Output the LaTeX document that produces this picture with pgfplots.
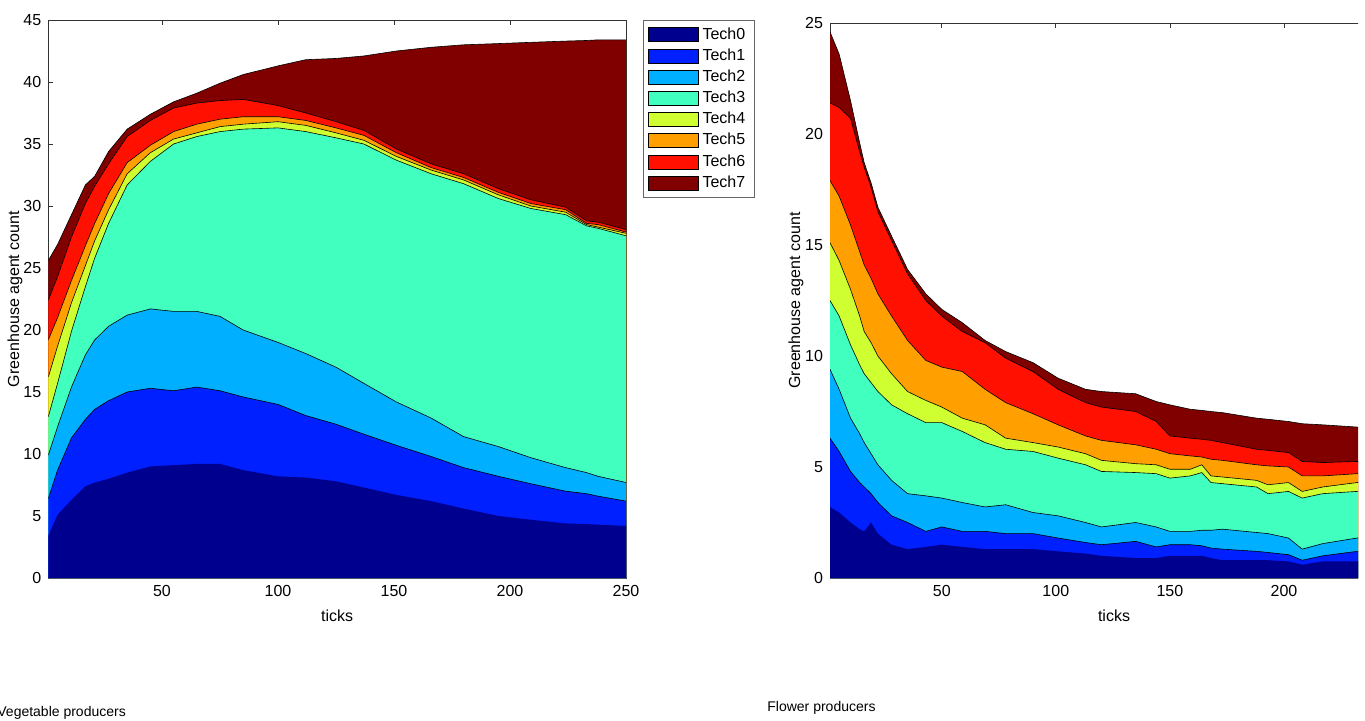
\documentclass[border=0pt]{standalone}
\usepackage{fontspec}
\setmainfont{Liberation Sans}
\usepackage{pgfplots}
\pgfplotsset{compat=1.18}
\usepackage{pgfplotstable}

% jet colormap, 8 levels
\definecolor{tech0}{RGB}{0,0,143}
\definecolor{tech1}{RGB}{0,32,255}
\definecolor{tech2}{RGB}{0,175,255}
\definecolor{tech3}{RGB}{64,255,191}
\definecolor{tech4}{RGB}{207,255,48}
\definecolor{tech5}{RGB}{255,159,0}
\definecolor{tech6}{RGB}{255,16,0}
\definecolor{tech7}{RGB}{128,0,0}

% cumulative tops of the stacked areas (c0 = Tech0, ..., c7 = total)
\pgfplotstableread{
x   c0   c1   c2   c3   c4   c5   c6   c7
1   3.4  6.4  9.9  13.0 16.2 19.2 22.4 25.6
5   5.1  8.7  12.2 15.7 18.7 21.0 24.3 26.9
11  6.3  11.3 15.4 19.9 22.2 24.0 27.5 29.3
17  7.4  12.8 18.0 23.5 25.2 26.8 30.2 31.7
21  7.7  13.6 19.2 25.8 27.2 28.6 31.6 32.4
27  8.0  14.3 20.3 28.6 29.7 31.0 33.4 34.4
35  8.5  15.0 21.2 31.7 32.6 33.5 35.6 36.2
45  9.0  15.3 21.7 33.6 34.3 34.9 36.9 37.4
55  9.1  15.1 21.5 35.0 35.4 36.0 37.9 38.4
65  9.2  15.4 21.5 35.6 35.9 36.6 38.3 39.1
75  9.2  15.1 21.1 36.0 36.4 37.0 38.5 39.9
85  8.7  14.6 20.0 36.2 36.6 37.2 38.6 40.6
100 8.2  14.0 19.0 36.3 36.8 37.2 38.1 41.3
112 8.1  13.1 18.1 36.0 36.5 36.9 37.5 41.8
125 7.8  12.4 17.0 35.5 35.9 36.3 36.8 41.9
137 7.3  11.6 15.7 35.0 35.3 35.7 36.1 42.1
151 6.7  10.7 14.2 33.7 34.0 34.3 34.6 42.5
166 6.2  9.8  12.9 32.6 32.9 33.1 33.4 42.8
180 5.6  8.9  11.4 31.8 32.1 32.3 32.6 43.0
195 5.0  8.2  10.6 30.6 30.9 31.1 31.4 43.1
209 4.7  7.6  9.7  29.8 30.0 30.2 30.5 43.2
224 4.4  7.0  8.9  29.3 29.5 29.7 29.9 43.3
233 4.35 6.8  8.5  28.4 28.5 28.6 28.8 43.35
238 4.3  6.6  8.2  28.2 28.3 28.5 28.7 43.4
250 4.2  6.2  7.7  27.6 27.8 27.9 28.1 43.4
}\vegdata

\pgfplotstableread{
x   c0   c1   c2   c3   c4   c5   c6   c7
1   3.2  6.3  9.4  12.5 15.1 17.9 21.4 24.6
5   2.95 5.7  8.5  11.8 14.3 17.2 21.2 23.6
10  2.5  4.8  7.2  10.5 13.0 15.9 20.7 21.5
14  2.2  4.3  6.5  9.6  11.8 14.7 19.2 19.6
16  2.1  4.1  6.1  9.2  11.1 14.1 18.5 18.7
19  2.5  3.8  5.6  8.8  10.6 13.5 17.6 17.8
22  2.0  3.4  5.1  8.4  10.0 12.8 16.5 16.7
28  1.5  2.8  4.4  7.8  9.2  11.8 15.2 15.4
35  1.3  2.5  3.8  7.4  8.4  10.7 13.7 13.9
43  1.4  2.1  3.7  7.0  8.0  9.8  12.5 12.8
50  1.5  2.3  3.6  7.0  7.7  9.5  11.8 12.1
59  1.4  2.1  3.4  6.6  7.2  9.3  11.1 11.5
69  1.3  2.1  3.2  6.1  6.9  8.5  10.6 10.7
78  1.3  2.0  3.3  5.8  6.3  7.9  9.9  10.2
90  1.3  2.0  2.95 5.7  6.1  7.4  9.3  9.7
101 1.2  1.8  2.8  5.4  5.9  6.9  8.5  9.0
113 1.1  1.6  2.5  5.1  5.6  6.4  7.9  8.5
120 1.0  1.5  2.3  4.8  5.3  6.2  7.7  8.4
135 0.9  1.65 2.5  4.75 5.15 6.0  7.5  8.3
144 0.9  1.4  2.3  4.7  5.1  5.8  7.05 7.95
150 1.0  1.5  2.1  4.5  4.9  5.6  6.4  7.8
159 1.0  1.5  2.1  4.6  4.9  5.5  6.3  7.6
164 1.0  1.45 2.15 4.75 5.1  5.45 6.25 7.55
168 0.9  1.35 2.15 4.3  4.6  5.35 6.2  7.5
173 0.8  1.3  2.2  4.25 4.55 5.3  6.1  7.45
188 0.8  1.2  2.05 4.1  4.4  5.1  5.8  7.2
193 0.8  1.15 2.0  3.8  4.2  5.05 5.75 7.15
202 0.75 1.05 1.8  3.9  4.3  5.0  5.65 7.05
208 0.6  0.8  1.3  3.6  3.9  4.6  5.25 6.95
217 0.75 1.0  1.55 3.8  4.1  4.6  5.2  6.9
232 0.75 1.2  1.8  3.9  4.3  4.7  5.25 6.8
240 0.75 1.2  1.8  3.9  4.3  4.7  5.25 6.75
}\flowdata

\pgfplotsset{
  mlab/.style={
    scale only axis,
    anchor=south west,
    xmin=1, xmax=250, ymin=0,
    xtick={50,100,...,250},
    xtick pos=both, ytick pos=both,
    tick align=inside,
    major tick length=2.5pt,
    axis line style={black!80, line width=0.4pt},
    tick style={black!80, line width=0.4pt},
    tick label style={font=\fontsize{8}{9}\selectfont},
    label style={font=\fontsize{8}{9}\selectfont},
    /pgf/number format/assume math mode=true,
    xlabel={ticks},
    ylabel={Greenhouse agent count},
  },
  edge/.style={black, line width=0.3pt, forget plot},
}

\begin{document}
\begin{tikzpicture}[x=1pt,y=1pt]

\begin{axis}[mlab,
  at={(24.15pt,71pt)}, width=288.85pt, height=279pt,
  ymax=45, ytick={0,5,...,45},
  ylabel style={at={(axis description cs:-0.0576,0.5)}, anchor=center},
  reverse legend,
  legend style={at={(1,1)}, anchor=north west, xshift=8.25pt,
    draw=black!60, fill=white, font=\fontsize{8}{9}\selectfont,
    inner xsep=2.5pt, inner ysep=1.5pt, row sep=-0.7pt, cells={anchor=west}},
  legend image code/.code={\draw[#1, draw=black, line width=0.3pt] (0pt,-3.5pt) rectangle (25pt,3.5pt);},
]
\addplot[fill=tech7, draw=none] table[x=x,y=c7]{\vegdata} \closedcycle;
\addlegendentry{Tech7}
\addplot[fill=tech6, draw=none] table[x=x,y=c6]{\vegdata} \closedcycle;
\addlegendentry{Tech6}
\addplot[fill=tech5, draw=none] table[x=x,y=c5]{\vegdata} \closedcycle;
\addlegendentry{Tech5}
\addplot[fill=tech4, draw=none] table[x=x,y=c4]{\vegdata} \closedcycle;
\addlegendentry{Tech4}
\addplot[fill=tech3, draw=none] table[x=x,y=c3]{\vegdata} \closedcycle;
\addlegendentry{Tech3}
\addplot[fill=tech2, draw=none] table[x=x,y=c2]{\vegdata} \closedcycle;
\addlegendentry{Tech2}
\addplot[fill=tech1, draw=none] table[x=x,y=c1]{\vegdata} \closedcycle;
\addlegendentry{Tech1}
\addplot[fill=tech0, draw=none] table[x=x,y=c0]{\vegdata} \closedcycle;
\addlegendentry{Tech0}
\addplot[edge] table[x=x,y=c7]{\vegdata};
\addplot[edge] table[x=x,y=c6]{\vegdata};
\addplot[edge] table[x=x,y=c5]{\vegdata};
\addplot[edge] table[x=x,y=c4]{\vegdata};
\addplot[edge] table[x=x,y=c3]{\vegdata};
\addplot[edge] table[x=x,y=c2]{\vegdata};
\addplot[edge] table[x=x,y=c1]{\vegdata};
\end{axis}

% the right panel is cut off at the edge of the page, as in the source image
\begin{scope}
\clip (0pt,0pt) rectangle (679pt,360pt);
\begin{axis}[mlab,
  at={(415pt,71pt)}, width=284pt, height=277.5pt,
  ymax=25, ytick={0,5,...,25},
  xtick={50,100,...,200},
  ylabel style={at={(axis description cs:-0.0599,0.5)}, anchor=center},
]
\addplot[fill=tech7, draw=none] table[x=x,y=c7]{\flowdata} \closedcycle;
\addplot[fill=tech6, draw=none] table[x=x,y=c6]{\flowdata} \closedcycle;
\addplot[fill=tech5, draw=none] table[x=x,y=c5]{\flowdata} \closedcycle;
\addplot[fill=tech4, draw=none] table[x=x,y=c4]{\flowdata} \closedcycle;
\addplot[fill=tech3, draw=none] table[x=x,y=c3]{\flowdata} \closedcycle;
\addplot[fill=tech2, draw=none] table[x=x,y=c2]{\flowdata} \closedcycle;
\addplot[fill=tech1, draw=none] table[x=x,y=c1]{\flowdata} \closedcycle;
\addplot[fill=tech0, draw=none] table[x=x,y=c0]{\flowdata} \closedcycle;
\addplot[edge] table[x=x,y=c7]{\flowdata};
\addplot[edge] table[x=x,y=c6]{\flowdata};
\addplot[edge] table[x=x,y=c5]{\flowdata};
\addplot[edge] table[x=x,y=c4]{\flowdata};
\addplot[edge] table[x=x,y=c3]{\flowdata};
\addplot[edge] table[x=x,y=c2]{\flowdata};
\addplot[edge] table[x=x,y=c1]{\flowdata};
\end{axis}
\end{scope}

\node[anchor=west, inner sep=0pt, font=\fontsize{7}{8}\selectfont] at (-1.5pt,3.5pt) {Vegetable producers};
\node[anchor=west, inner sep=0pt, font=\fontsize{7}{8}\selectfont] at (383.5pt,6pt) {Flower producers};

\pgfresetboundingbox
\useasboundingbox (0pt,0pt) rectangle (682.5pt,360pt);
\end{tikzpicture}
\end{document}
